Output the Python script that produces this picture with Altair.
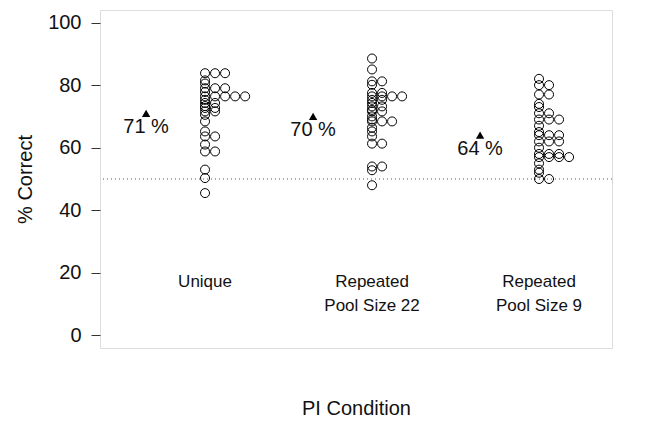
import altair as alt
import pandas as pd

# ---- data ----
conditions = ["Unique", "Repeated\nPool Size 22", "Repeated\nPool Size 9"]
mean_pct = [71, 70, 64]

unique_scores = [83.8, 83.8, 83.8, 81.5, 80.5, 79.0, 79.0, 79.0, 77.8,
                 76.4, 76.4, 76.4, 76.4, 76.4, 75.3, 74.3, 74.3, 73.3,
                 72.7, 72.7, 71.6, 71.6, 70.5, 68.4, 65.2, 63.6, 63.6,
                 61.0, 58.8, 58.8, 53.0, 50.3, 45.5]
pool22_scores = [88.5, 85.0, 81.2, 81.2, 80.1, 77.5, 77.5, 76.4, 76.4,
                 76.4, 76.4, 75.3, 75.3, 74.3, 73.2, 73.2, 72.1, 71.6,
                 71.6, 70.0, 69.0, 68.4, 68.4, 68.4, 66.4, 65.2, 63.6,
                 61.3, 61.3, 54.0, 54.0, 52.8, 48.0]
pool9_scores = [82.0, 80.0, 80.0, 77.0, 77.0, 74.0, 73.0, 71.0, 71.0,
                69.0, 69.0, 69.0, 67.0, 65.0, 64.0, 64.0, 64.0, 62.0,
                62.0, 62.0, 60.0, 58.0, 58.0, 58.0, 57.0, 57.0, 57.0,
                57.0, 55.0, 53.0, 52.0, 50.0, 50.0]

y_ticks = [0, 20, 40, 60, 80, 100]
chance_level = [50]

# ---- tables built from the arrays ----
all_scores = [unique_scores, pool22_scores, pool9_scores]
dots = pd.DataFrame(
    [{"gi": i + 1, "cond": conditions[i], "score": v}
     for i, vals in enumerate(all_scores) for v in vals]
)
means = pd.DataFrame({"gi": [1, 2, 3], "mean": mean_pct, "cond": conditions})
labels = pd.DataFrame({"gi": [1, 2, 3], "cond": conditions})
chance = pd.DataFrame({"y": chance_level})

FONT = "Liberation Sans"
X_DOMAIN = [0.371, 3.437]
Y_DOMAIN = [-4, 104]
STEP = 0.06      # horizontal stacking step for tied values
TRI_OFF = 0.353  # mean marker sits left of each dot column

xscale = alt.Scale(domain=X_DOMAIN, nice=False, zero=False)
yscale = alt.Scale(domain=Y_DOMAIN, nice=False, zero=False)
xaxis = alt.Axis(labels=False, ticks=False, domain=False, grid=False,
                 title="PI Condition", titleFontSize=20, titleFont=FONT,
                 titleFontWeight="normal", titleColor="#111", titlePadding=66,
                 titleBaseline="alphabetic")
yaxis = alt.Axis(values=y_ticks, tickSize=9, tickColor="#333", domain=False,
                 grid=False, labelFontSize=20, labelFont=FONT, labelColor="#111",
                 labelPadding=10, title="% Correct", titleFontSize=20,
                 titleFont=FONT, titleFontWeight="normal", titleColor="#111",
                 titlePadding=12)

base_dots = alt.Chart(dots).transform_window(
    stack="row_number()", groupby=["gi", "score"]
).transform_calculate(
    xpos=f"datum.gi + (datum.stack - 1) * {STEP}"
)

circles = base_dots.mark_point(
    shape="circle", filled=False, size=81, color="black", strokeWidth=1, opacity=1
).encode(
    x=alt.X("xpos:Q", scale=xscale, axis=xaxis),
    y=alt.Y("score:Q", scale=yscale, axis=yaxis),
)

rule = alt.Chart(chance).mark_rule(
    color="#555", strokeDash=[1, 3], strokeWidth=1
).encode(y=alt.Y("y:Q", scale=yscale, axis=yaxis))

tri = alt.Chart(means).transform_calculate(
    tpos=f"datum.gi - {TRI_OFF}"
).mark_point(shape="triangle-up", filled=True, color="black", size=70, opacity=1).encode(
    x=alt.X("tpos:Q", scale=xscale, axis=xaxis),
    y=alt.Y("mean:Q", scale=yscale, axis=yaxis),
)

tri_text = alt.Chart(means).transform_calculate(
    tpos=f"datum.gi - {TRI_OFF}",
    lab="datum.mean + ' %'"
).mark_text(font=FONT, fontSize=20, color="#111", align="center",
            baseline="alphabetic", dy=20).encode(
    x=alt.X("tpos:Q", scale=xscale, axis=xaxis),
    y=alt.Y("mean:Q", scale=yscale, axis=yaxis),
    text="lab:N",
)

cond_text = alt.Chart(labels).transform_calculate(
    ly="15.6"
).mark_text(font=FONT, fontSize=17, color="#111", align="center",
            baseline="alphabetic", lineBreak="\n", lineHeight=24).encode(
    x=alt.X("gi:Q", scale=xscale, axis=xaxis),
    y=alt.Y("ly:Q", scale=yscale, axis=yaxis),
    text="cond:N",
)

chart = alt.layer(rule, circles, tri, tri_text, cond_text).properties(
    width=512, height=338,
    padding={"left": 92, "top": 2, "right": 17, "bottom": 70},
    autosize=alt.AutoSizeParams(type="none"),
).configure_view(stroke="#333", strokeWidth=1.2).configure(background="white")

chart.save("out.html", embed_options={"renderer": "svg", "actions": False})
